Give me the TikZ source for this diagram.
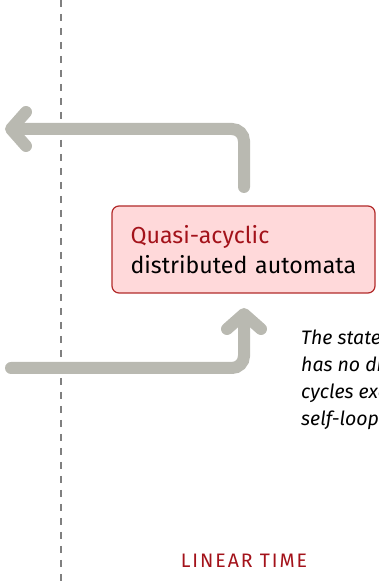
\documentclass[tikz,border=0pt]{standalone}
\usepackage{fontspec}
\setmainfont{Fira Sans}
\usetikzlibrary{arrows.meta}
\definecolor{flowgray}{HTML}{B9B9B1}
\definecolor{boxred}{HTML}{B22A2A}
\definecolor{boxfill}{HTML}{FFD9DA}
\definecolor{textred}{HTML}{A3121A}
\begin{document}
\begin{tikzpicture}[x=1pt, y=1pt,
  flow/.style={draw=flowgray, line width=12pt, line cap=round, rounded corners=12pt,
    -{Straight Barb[length=15pt, width=34pt, round]}},
  classbox/.style={draw=boxred, fill=boxfill, line width=1.2pt, rounded corners=7pt,
    minimum width=263pt, minimum height=87pt, text width=226pt, align=left,
    font=\fontsize{23.2}{30}\selectfont}]
  \useasboundingbox (0,0) rectangle (378,581);
  % time axis
  \coordinate (axtop) at (61,581);
  \coordinate (axbot) at (61,0);
  \draw[gray, line width=1.2pt, dash pattern=on 7pt off 7pt] (axtop) -- (axbot);
  % class
  \node[classbox] at (243.5,331.5) (qa) {\textcolor{textred}{Quasi-acyclic}\\distributed automata};
  % flows in and out
  \coordinate (outstart) at (244,394);
  \coordinate (outend) at (5,452);
  \coordinate (instart) at (11,213);
  \coordinate (inend) at (244,273);
  \draw[flow] (outstart) |- (outend);
  \draw[flow] (instart) -| (inend);
  % note and label
  \node[anchor=base west, inner sep=0pt, align=left, font=\itshape\fontsize{19.5}{27}\selectfont]
    at (301,155) (note) {The state diagram\\has no directed\\cycles except\\self-loops.};
  \node[anchor=base, inner sep=0pt, text=textred, font=\fontsize{19.5}{20}\selectfont\addfontfeature{LetterSpace=10}]
    at (244,13) (axis) {LINEAR TIME};
\end{tikzpicture}
\end{document}
